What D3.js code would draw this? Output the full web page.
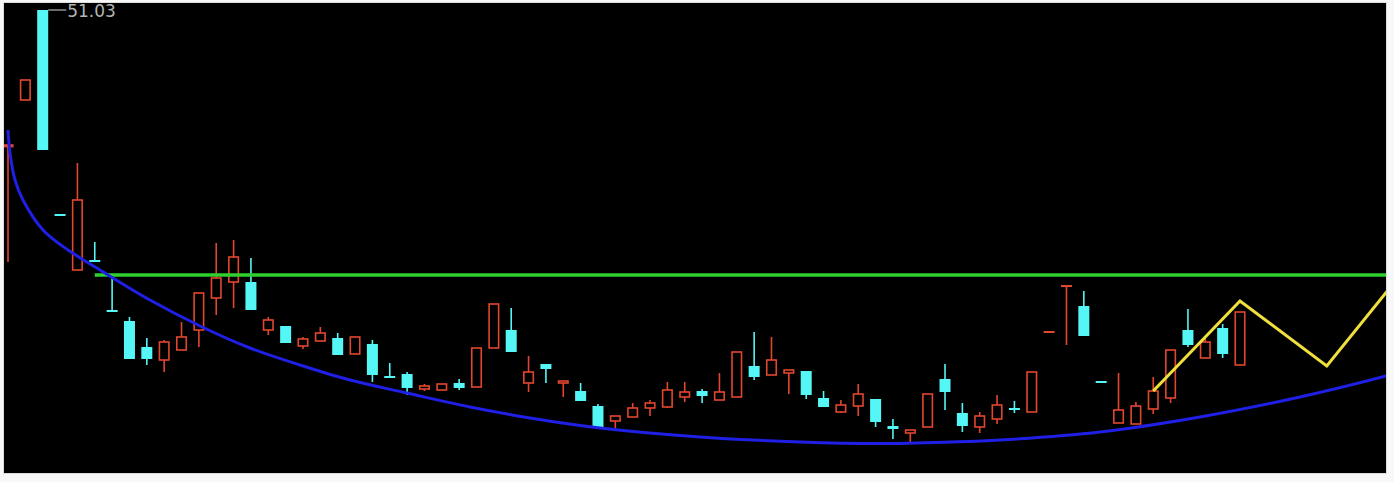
<!DOCTYPE html>
<html>
<head>
<meta charset="utf-8">
<script src="https://cdn.jsdelivr.net/npm/d3@7"></script>
<style>
  html, body { margin: 0; padding: 0; background: #f8f8f8; }
  svg { display: block; }
</style>
</head>
<body>
<svg id="chart" width="1394" height="482"></svg>
<script>
// daily candles (red = up, cyan = down)
const opens  = [44.20,46.53,51.03,40.78,38.03,38.48,35.98,35.48,34.18,33.53,34.03,35.03,36.63,37.43,37.43,35.03,35.23,34.23,34.48,34.63,33.83,34.33,32.68,32.83,32.08,32.03,32.38,32.18,34.13,35.03,32.38,33.33,32.38,31.98,31.23,30.48,30.68,31.13,31.18,31.68,31.98,31.53,31.68,33.23,32.78,32.88,32.98,31.63,30.93,31.23,31.58,30.23,29.88,30.18,32.58,30.88,30.18,30.58,31.13,30.93,34.93,37.23,36.23,32.43,30.38,30.33,31.08,31.63,35.03,33.63,35.13,33.28];
const highs  = [44.28,47.53,51.03,40.78,43.38,39.43,37.68,35.68,34.63,34.53,35.43,36.88,39.38,39.53,38.63,35.68,35.23,34.68,35.18,34.88,34.68,34.53,33.38,32.93,32.33,32.33,32.58,34.13,36.33,36.13,33.73,33.33,32.48,32.38,31.33,30.73,31.38,31.53,32.43,32.43,32.08,32.88,33.93,34.93,34.68,33.03,32.98,31.98,31.53,32.33,31.58,30.58,30.03,31.83,33.33,31.38,30.93,31.78,31.48,32.93,34.93,37.23,36.98,32.43,32.88,31.43,32.68,34.03,36.08,34.68,35.33,35.93];
const lows   = [38.43,46.53,44.03,40.78,38.03,38.48,35.98,33.58,33.28,32.93,34.03,34.18,35.78,36.13,36.03,34.78,34.38,34.08,34.48,33.78,33.83,32.43,32.68,31.78,31.98,32.03,32.03,32.18,34.13,33.93,31.93,32.38,31.68,31.48,30.18,30.13,30.68,30.73,31.13,31.43,31.38,31.53,31.68,32.53,32.78,31.83,31.58,31.18,30.88,30.73,30.18,29.58,29.43,30.18,31.03,29.93,29.88,30.33,30.88,30.93,34.93,34.28,34.73,32.43,30.38,30.33,30.83,31.38,34.18,33.63,33.63,33.28];
const closes = [44.28,47.53,44.03,40.78,41.53,38.48,35.98,33.58,33.58,34.43,34.68,36.88,37.63,38.68,36.03,35.53,34.38,34.58,34.88,33.78,34.68,32.78,32.68,32.13,32.23,32.33,32.13,34.13,36.33,33.93,32.93,33.08,32.48,31.48,30.18,30.73,31.13,31.38,32.03,31.93,31.73,31.93,33.93,32.68,33.53,33.03,31.78,31.18,31.28,31.83,30.43,30.08,30.03,31.83,31.93,30.23,30.73,31.28,31.03,32.93,34.93,37.23,34.73,32.43,31.03,31.23,31.98,34.03,34.28,34.43,33.83,35.93];
const days = opens.map((_, i) => i);

// blue "cup" curve: day index / price
const cupDays   = [0, 0.115, 0.403, 0.864, 2.017, 3.458, 5.302, 8.184, 11.066, 13.947, 16.829, 19.711, 22.996, 26.627, 30.085, 34.119, 39.882, 45.646, 50.256, 54.291, 57.172, 62.936, 68.699, 74.463, 79.419, 80.23];
const cupPrices = [45.03, 43.88, 42.53, 41.53, 40.03, 39.03, 38.03, 36.53, 35.23, 34.13, 33.28, 32.53, 31.88, 31.18, 30.63, 30.13, 29.68, 29.43, 29.355, 29.43, 29.53, 29.93, 30.68, 31.68, 32.73, 32.93];

// green rim line
const rimPrice = 37.78;
const rimDays = [5, 80];

// yellow zig-zag projection
const zigDays   = [66, 71, 76, 80];
const zigPrices = [31.98, 36.48, 33.23, 37.53];

const maxLabel = '51.03';

const colors = {
    up: '#e3462f',
    down: '#55f6f6',
    cup: '#1f1fe6',
    rim: '#2ed12e',
    zig: '#f0e03c',
    label: '#b4b4b4'
};

const frame = { left: 4, top: 3, right: 1386, bottom: 473 };

const svg = d3.select('#chart');

svg.append('rect')
    .attr('x', frame.left - 1)
    .attr('y', frame.top - 1)
    .attr('width', frame.right - frame.left + 2)
    .attr('height', frame.bottom - frame.top + 2)
    .attr('fill', '#dcdcdc');
svg.append('rect')
    .attr('x', frame.left)
    .attr('y', frame.top)
    .attr('width', frame.right - frame.left)
    .attr('height', frame.bottom - frame.top)
    .attr('fill', '#000');

svg.append('clipPath').attr('id', 'plot-clip')
    .append('rect')
    .attr('x', frame.left)
    .attr('y', frame.top)
    .attr('width', frame.right - frame.left)
    .attr('height', frame.bottom - frame.top);

const x = d3.scaleLinear().domain([0, days.length - 1]).range([8, 1240]);
const y = d3.scaleLinear().domain([27.93, 51.33]).range([472, 4]);

const step = x(1) - x(0);
const bodyW = Math.round(step * 0.64);

const plot = svg.append('g').attr('clip-path', 'url(#plot-clip)');

function candleColor(i) {
    if (closes[i] > opens[i]) return colors.up;
    if (closes[i] < opens[i]) return colors.down;
    return (i > 0 && closes[i] < closes[i - 1]) ? colors.down : colors.up;
}

const candles = plot.append('g').attr('class', 'candles')
    .selectAll('g')
    .data(days)
    .join('g')
    .attr('transform', i => `translate(${x(i)},0)`);

candles.append('line')
    .attr('y1', i => y(highs[i]))
    .attr('y2', i => y(lows[i]))
    .attr('stroke', candleColor)
    .attr('stroke-width', 1.6);

candles.each(function (i) {
    const g = d3.select(this);
    const col = candleColor(i);
    const top = y(Math.max(opens[i], closes[i]));
    const bot = y(Math.min(opens[i], closes[i]));
    if (bot - top < 1.5) {
        g.append('line')
            .attr('x1', -bodyW / 2).attr('x2', bodyW / 2)
            .attr('y1', (top + bot) / 2).attr('y2', (top + bot) / 2)
            .attr('stroke', col)
            .attr('stroke-width', 2);
    } else if (col === colors.up) {
        g.append('rect')
            .attr('x', -bodyW / 2 + 0.75)
            .attr('y', top)
            .attr('width', bodyW - 1.5)
            .attr('height', bot - top)
            .attr('fill', '#000')
            .attr('stroke', col)
            .attr('stroke-width', 1.6);
    } else {
        g.append('rect')
            .attr('x', -bodyW / 2)
            .attr('y', top)
            .attr('width', bodyW)
            .attr('height', bot - top)
            .attr('fill', col);
    }
});

// max price marker
const topX = x(2) + bodyW / 2;
const topY = y(highs[2]);
svg.append('line')
    .attr('x1', topX).attr('x2', topX + 18)
    .attr('y1', topY).attr('y2', topY)
    .attr('stroke', colors.label)
    .attr('stroke-width', 1.2);
svg.append('text')
    .attr('x', topX + 19)
    .attr('y', topY + 7)
    .attr('fill', colors.label)
    .attr('font-family', 'DejaVu Sans, sans-serif')
    .attr('font-size', 17)
    .text(maxLabel);

// overlay lines
plot.append('line')
    .attr('x1', x(rimDays[0])).attr('x2', x(rimDays[1]))
    .attr('y1', y(rimPrice)).attr('y2', y(rimPrice))
    .attr('stroke', colors.rim)
    .attr('stroke-width', 3.5);

plot.append('path')
    .datum(cupDays.map((d, i) => [d, cupPrices[i]]))
    .attr('fill', 'none')
    .attr('stroke', colors.cup)
    .attr('stroke-width', 3)
    .attr('d', d3.line().x(d => x(d[0])).y(d => y(d[1])).curve(d3.curveCatmullRom.alpha(0.5)));

plot.append('path')
    .datum(zigDays.map((d, i) => [d, zigPrices[i]]))
    .attr('fill', 'none')
    .attr('stroke', colors.zig)
    .attr('stroke-width', 3)
    .attr('d', d3.line().x(d => x(d[0])).y(d => y(d[1])));
</script>
</body>
</html>
